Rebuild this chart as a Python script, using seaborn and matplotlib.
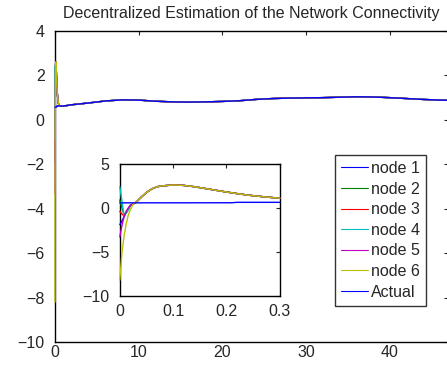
import seaborn as sns
import matplotlib.pyplot as plt
import pandas as pd

sns.set_style("white")
plt.rcParams["font.family"] = ["Liberation Sans", "DejaVu Sans"]
plt.rcParams["axes.unicode_minus"] = True

# early transient, each node starts from its own estimate
t_early = [0, 0.004, 0.008, 0.012, 0.016, 0.02]
node1_early = [-1.9, -1.5, -1.0, -0.5, -0.1, 0.3]
node2_early = [0.9, 0.0, -0.8, -0.6, -0.2, 0.3]
node3_early = [-0.4, -0.7, -0.9, -0.5, -0.1, 0.3]
node4_early = [2.4, 0.8, -0.9, -0.6, -0.2, 0.3]
node5_early = [-3.3, -2.0, -1.0, -0.4, 0.0, 0.3]
node6_early = [-8.2, -5.1, -3.2, -1.8, -0.8, -0.2]

# after ~0.025 all nodes agree
t_common = [0.025, 0.03, 0.04, 0.05, 0.06, 0.07, 0.08, 0.1, 0.12, 0.14, 0.16,
            0.18, 0.2, 0.22, 0.24, 0.26, 0.28, 0.3, 0.35, 0.4, 0.5, 0.7, 1.0,
            2, 4, 6, 8, 10, 12, 14, 16, 18, 20, 22, 24, 26, 28, 30, 32, 34,
            36, 38, 40, 42, 44, 46, 47]
common = [0.45, 0.6, 1.2, 1.75, 2.15, 2.4, 2.5, 2.6, 2.55, 2.4, 2.2,
          2.0, 1.8, 1.62, 1.45, 1.32, 1.2, 1.1, 0.9, 0.75, 0.64, 0.61, 0.62,
          0.68, 0.76, 0.85, 0.90, 0.89, 0.84, 0.81, 0.80, 0.81, 0.83, 0.86,
          0.92, 0.96, 0.98, 0.99, 1.0, 1.02, 1.04, 1.03, 1.0, 0.96, 0.92,
          0.89, 0.88]

t_actual = [0, 0.21, 0.22, 0.3, 1.0, 2, 4, 6, 8, 10, 12, 14, 16, 18, 20, 22,
            24, 26, 28, 30, 32, 34, 36, 38, 40, 42, 44, 46, 47]
actual = [0.57, 0.58, 0.63, 0.63, 0.62, 0.68, 0.76, 0.85, 0.90, 0.89, 0.84,
          0.81, 0.80, 0.81, 0.83, 0.86, 0.92, 0.96, 0.98, 0.99, 1.0, 1.02,
          1.04, 1.03, 1.0, 0.96, 0.92, 0.89, 0.88]

names = ["node 1", "node 2", "node 3", "node 4", "node 5", "node 6", "Actual"]
colors = ["#0000ff", "#008000", "#ff0000", "#00bfbf", "#bf00bf", "#bfbf00",
          "#0000ff"]

frames = []
for name, early in zip(names[:6], [node1_early, node2_early, node3_early,
                                   node4_early, node5_early, node6_early]):
    frames.append(pd.DataFrame({"t": t_early + t_common,
                                "value": early + common, "series": name}))
frames.append(pd.DataFrame({"t": t_actual, "value": actual,
                            "series": "Actual"}))
df = pd.concat(frames, ignore_index=True)
palette = dict(zip(names, colors))


def style_axes(a, xpad, ypad):
    a.set_xlabel("")
    a.set_ylabel("")
    a.tick_params(direction="in", top=True, right=True, labelsize=11.5,
                  length=3, width=0.8)
    a.tick_params(axis="x", pad=xpad)
    a.tick_params(axis="y", pad=ypad)
    for s in a.spines.values():
        s.set_linewidth(1)
        s.set_color("black")
        s.set_zorder(1)
    for ln in a.get_lines():
        ln.set_clip_on(False)


fig = plt.figure(figsize=(4.47, 3.69), dpi=100)
ax = fig.add_axes([0.123, 0.073, 0.880, 0.843])

sns.lineplot(data=df, x="t", y="value", hue="series", palette=palette,
             sort=False, estimator=None, lw=1, ax=ax)
ax.set_xlim(0, 47)
ax.set_ylim(-10, 4)
ax.set_xticks([0, 10, 20, 30, 40])
ax.set_yticks(range(-10, 5, 2))
ax.set_title("Decentralized Estimation of the Network Connectivity",
             fontsize=11.5, pad=9)
style_axes(ax, 2, 7.5)

leg = ax.legend(loc="lower right", bbox_to_anchor=(0.944, 0.116),
                fontsize=11.5, frameon=True, fancybox=False,
                handlelength=1.65, handletextpad=0.2, labelspacing=0.35,
                borderpad=0.4, borderaxespad=0)
leg.get_frame().set_edgecolor("black")
leg.get_frame().set_linewidth(1)
for h in leg.get_lines():
    h.set_linewidth(0.8)

# zoomed inset on the start
ins = fig.add_axes([0.268, 0.198, 0.358, 0.358])
sns.lineplot(data=df[df["t"] <= 0.3], x="t", y="value", hue="series",
             palette=palette, sort=False, estimator=None, lw=1, ax=ins,
             legend=False)
ins.set_xlim(0, 0.3)
ins.set_ylim(-10, 5)
ins.set_xticks([0, 0.1, 0.2, 0.3])
ins.set_xticklabels(["0", "0.1", "0.2", "0.3"])
ins.set_yticks([-10, -5, 0, 5])
style_axes(ins, 6, 7.5)

fig.savefig("out.png", dpi=100)
